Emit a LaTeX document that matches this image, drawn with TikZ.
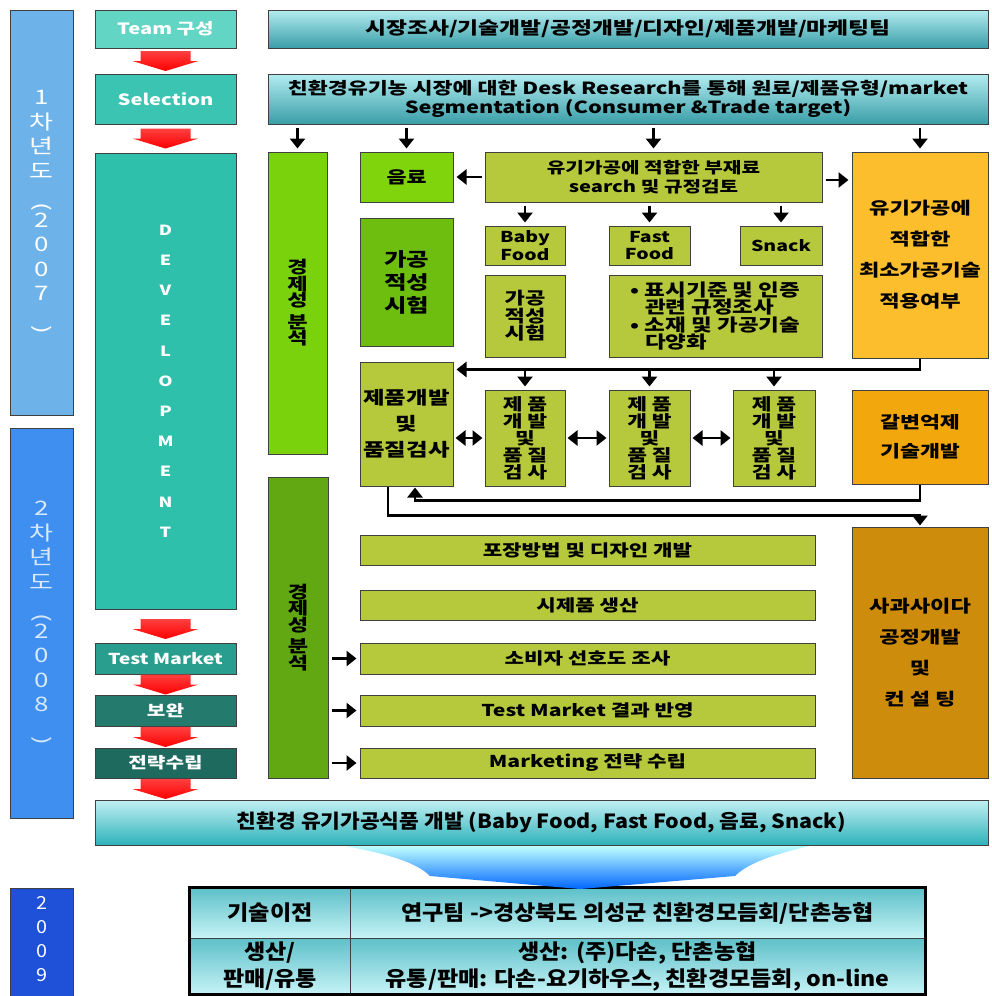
\documentclass[tikz,border=0pt]{standalone}
\usepackage{fontspec}
\setmainfont{Noto Sans CJK KR}[FakeStretch=1.3]
\newfontfamily\narrowfont{Noto Sans CJK KR}[FakeStretch=1.1]
\usetikzlibrary{arrows.meta,calc}

\definecolor{yearA}{HTML}{6DB3EA}
\definecolor{yearB}{HTML}{3F8FF0}
\definecolor{yearC}{HTML}{1E50D8}
\definecolor{tealA}{HTML}{62D5C5}
\definecolor{tealB}{HTML}{3CC4B2}
\definecolor{tealC}{HTML}{2FC0AC}
\definecolor{tealD}{HTML}{2A9E8E}
\definecolor{tealE}{HTML}{247A6C}
\definecolor{tealF}{HTML}{1F6A5E}
\definecolor{barTop}{HTML}{B2ECF0}
\definecolor{barBot}{HTML}{3A9EA8}
\definecolor{greenA}{HTML}{79D20C}
\definecolor{greenB}{HTML}{62A812}
\definecolor{greenC}{HTML}{6EBE10}
\definecolor{oliveG}{HTML}{B6C93C}
\definecolor{orangeA}{HTML}{FDBE2E}
\definecolor{orangeB}{HTML}{F2A70C}
\definecolor{orangeC}{HTML}{CD8C0C}
\definecolor{cellTop}{HTML}{5EC0C8}
\definecolor{cellBot}{HTML}{C6F3F7}

\begin{document}
\begin{tikzpicture}[x=1pt,y=-1pt,
  box/.style={draw=black!75, line width=1pt, align=center, inner sep=0pt, font=\bfseries\fontsize{16.3}{18}\selectfont},
  olive/.style={box, fill=oliveG},
  stage/.style={box, text=white, minimum width=141, font=\bfseries\fontsize{15.5}{18}\selectfont},
  yearbox/.style={box, minimum width=63, text=white, font=\fontsize{20}{24.5}\selectfont},
  bar/.style={box, top color=barTop, bottom color=barBot},
  cell/.style={box, top color=cellTop, bottom color=cellBot, font=\narrowfont\bfseries\fontsize{21}{27}\selectfont},
  conn/.style={line width=2.8pt, -{Triangle[width=15pt,length=10pt]}, shorten <=3pt, shorten >=3pt},
  dbl/.style={line width=2.8pt, {Triangle[width=15pt,length=10pt]}-{Triangle[width=15pt,length=10pt]}, shorten <=2pt, shorten >=2pt},
  redarrow/.pic={\shade[top color=red!75!white, bottom color=red] (-25,-10) -- (25,-10) -- (25,0) -- (33,0) -- (0,10) -- (-33,0) -- (-25,0) -- cycle;}
]
\useasboundingbox (0,0) rectangle (992,996);

% year columns
\node[yearbox, fill=yearA, minimum height=405] (yr1) at (41.5,212.5) {1\\차\\년\\도\\\rotatebox{-90}{(}\\2\\0\\0\\7\\\rotatebox{-90}{)}};
\node[yearbox, fill=yearB, minimum height=390, text=white!80!yearB] (yr2) at (41.5,623) {2\\차\\년\\도\\\rotatebox{-90}{(}\\2\\0\\0\\8\\\rotatebox{-90}{)}};
\node[yearbox, fill=yearC, minimum height=112, font=\narrowfont\fontsize{18}{24}\selectfont] (yr3) at (41.5,944) {\\[-20pt]2\\0\\0\\9};

% stages
\node[stage, fill=tealA, minimum height=38] (team) at (165.5,29) {Team 구성};
\node[stage, fill=tealB, minimum height=50] (sel) at (165.5,99) {Selection};
\node[stage, fill=tealC, minimum height=456, font=\bfseries\fontsize{14}{30.2}\selectfont] (dev) at (165.5,381) {D\\E\\V\\E\\L\\O\\P\\M\\E\\N\\T};
\node[stage, fill=tealD, minimum height=31, font=\bfseries\fontsize{15}{18}\selectfont] (tm) at (165.5,658.5) {Test Market};
\node[stage, fill=tealE, minimum height=31] (bowan) at (165.5,710.5) {보완};
\node[stage, fill=tealF, minimum height=30] (strat) at (165.5,763) {전략수립};
\pic at ($(team.south)!0.5!(sel.north)$) {redarrow};
\pic at ($(sel.south)!0.5!(dev.north)$) {redarrow};
\pic at ($(dev.south)!0.5!(tm.north)+(0,3)$) {redarrow};
\pic at ($(tm.south)!0.5!(bowan.north)$) {redarrow};
\pic at ($(bowan.south)!0.5!(strat.north)$) {redarrow};

% top bars
\node[bar, minimum width=720, minimum height=38, font=\bfseries\fontsize{17.5}{20}\selectfont] (teambar) at (628,29) {시장조사/기술개발/공정개발/디자인/제품개발/마케팅팀};
\node[bar, minimum width=720, minimum height=50, font=\bfseries\fontsize{16.7}{19}\selectfont] (desk) at (628,99) {친환경유기농 시장에 대한 Desk Research를 통해 원료/제품유형/market\\Segmentation (Consumer \&Trade target)};

% economic analysis
\node[box, fill=greenA, minimum width=59, minimum height=302, font=\bfseries\fontsize{17}{16.5}\selectfont] (econA) at (297.5,303) {경\\제\\성\\[5pt]분\\석};
\node[box, fill=greenB, minimum width=60, minimum height=301, font=\bfseries\fontsize{17}{16.5}\selectfont] (econB) at (298,627.5) {경\\제\\성\\[5pt]분\\석};

% research block
\node[box, fill=greenA!95!yellow, minimum width=93, minimum height=50, font=\bfseries\fontsize{16.7}{18}\selectfont] (drink) at (406.5,177) {음료};
\node[olive, minimum width=337, minimum height=50, font=\bfseries\fontsize{15.5}{19}\selectfont] (search) at (653.5,177) {유기가공에 적합한 부재료\\search 및 규정검토};
\node[box, fill=orangeA, minimum width=136, minimum height=206, font=\bfseries\fontsize{17}{31}\selectfont] (minproc) at (920,255) {유기가공에\\적합한\\최소가공기술\\적용여부};
\node[olive, minimum width=80, minimum height=39, font=\bfseries\fontsize{15}{17.5}\selectfont] (baby) at (525,245.5) {Baby\\Food};
\node[olive, minimum width=81, minimum height=39, font=\bfseries\fontsize{15}{17.5}\selectfont] (fast) at (649.5,245.5) {Fast\\Food};
\node[olive, minimum width=82, minimum height=39, font=\bfseries\fontsize{15}{17.5}\selectfont] (snack) at (781,245.5) {Snack};
\node[box, fill=greenC, minimum width=93, minimum height=128, font=\bfseries\fontsize{18.8}{23}\selectfont] (procA) at (406.5,282) {가공\\적성\\시험};
\node[olive, minimum width=80, minimum height=82, font=\bfseries\fontsize{17}{17.5}\selectfont] (procB) at (525,316) {가공\\적성\\시험};
\node[olive, minimum width=213, minimum height=82, align=left, font=\bfseries\fontsize{17.3}{17.5}\selectfont] (label) at (715.5,316) {• 표시기준 및 인증\\\hphantom{• }관련 규정조사\\• 소재 및 가공기술\\\hphantom{• }다양화};

% product development block
\node[olive, minimum width=93, minimum height=124, font=\bfseries\fontsize{18}{26}\selectfont] (pdev) at (406.5,424) {제품개발\\및\\품질검사};
\node[olive, minimum width=80, minimum height=96, font=\bfseries\fontsize{16.5}{17}\selectfont] (pq1) at (525,438) {제 품\\개 발\\및\\품 질\\검 사};
\node[olive, minimum width=81, minimum height=96, font=\bfseries\fontsize{16.5}{17}\selectfont] (pq2) at (649.5,438) {제 품\\개 발\\및\\품 질\\검 사};
\node[olive, minimum width=82, minimum height=96, font=\bfseries\fontsize{16.5}{17}\selectfont] (pq3) at (774,438) {제 품\\개 발\\및\\품 질\\검 사};
\node[box, fill=orangeB, minimum width=136, minimum height=94, font=\bfseries\fontsize{16.7}{29}\selectfont] (brown) at (920,437) {갈변억제\\기술개발};
\node[box, fill=orangeC, minimum width=136, minimum height=251, font=\bfseries\fontsize{17}{31}\selectfont] (cider) at (920,652.5) {사과사이다\\공정개발\\및\\컨 설 팅};

% second year rows
\node[olive, minimum width=455, minimum height=30] (pack) at (587.5,550) {포장방법 및 디자인 개발};
\node[olive, minimum width=455, minimum height=30] (proto) at (587.5,605) {시제품 생산};
\node[olive, minimum width=455, minimum height=31] (cons) at (587.5,658.5) {소비자 선호도 조사};
\node[olive, minimum width=455, minimum height=31] (tmres) at (587.5,710.5) {Test Market 결과 반영};
\node[olive, minimum width=455, minimum height=30] (mkt) at (587.5,763) {Marketing 전략 수립};

% result bar
\node[box, top color=barTop!80!white, bottom color=barBot!80!cyan, minimum width=893, minimum height=45, font=\narrowfont\bfseries\fontsize{19.5}{20}\selectfont] (eco) at (541.5,822.5) {친환경 유기가공식품 개발 (Baby Food, Fast Food, 음료, Snack)};
\pic at ($(strat.south)!0.5!(strat.south |- eco.north)$) {redarrow};

% transfer table
\node[cell, minimum width=160, minimum height=50] (t11) at (270,913) {기술이전};
\node[cell, minimum width=575, minimum height=50] (t12) at (637.5,913) {연구팀 ->경상북도 의성군 친환경모듬회/단촌농협};
\node[cell, minimum width=160, minimum height=56] (t21) at (270,966) {생산/\\판매/유통};
\node[cell, minimum width=575, minimum height=56] (t22) at (637.5,966) {생산: (주)다손, 단촌농협\\유통/판매: 다손-요기하우스, 친환경모듬회, on-line};
\draw[line width=3pt] (t11.north west) rectangle (t22.south east);
\shade[top color=cyan!25!white, bottom color=blue!60!cyan] (345,846) .. controls (400,856) and (420,866) .. (430,876) -- (580,889) -- (735,876) .. controls (745,866) and (765,856) .. (810,846) -- cycle;

% connectors
\draw[conn] (econA.north |- desk.south) -- (econA.north);
\draw[conn] (drink.north |- desk.south) -- (drink.north);
\draw[conn] (search.north |- desk.south) -- (search.north);
\draw[conn] (minproc.north |- desk.south) -- (minproc.north);
\draw[conn] (search.west) -- (drink.east);
\draw[conn] ([yshift=-3pt]search.east) -- ([yshift=-3pt]search.east -| minproc.west);
\draw[conn] (search.south -| baby.north) -- (baby.north);
\draw[conn] (search.south -| fast.north) -- (fast.north);
\draw[conn] (search.south -| snack.north) -- (snack.north);
\coordinate (bus) at ($(pdev.north east)+(0,8)$);
\draw[conn, shorten <=0pt] (minproc.south) |- (bus);
\draw[conn, shorten <=0pt] (bus -| pq1.north) -- (pq1.north);
\draw[conn, shorten <=0pt] (bus -| pq2.north) -- (pq2.north);
\draw[conn, shorten <=0pt] (bus -| pq3.north) -- (pq3.north);
\draw[dbl] (pq1.west -| pdev.east) -- (pq1.west);
\draw[dbl] (pq1.east) -- (pq2.west);
\draw[dbl] (pq2.east) -- (pq3.west);
\draw[conn, shorten <=0pt, shorten >=1pt] (brown.south) -- ++(0,16) -| ([xshift=8.5pt]pdev.south);
\draw[conn, shorten <=0pt, shorten >=1pt] ([xshift=-18.5pt]pdev.south) -- ++(0,29) -| (cider.north);
\draw[conn] (econB.east |- cons.west) -- (cons.west);
\draw[conn] (econB.east |- tmres.west) -- (tmres.west);
\draw[conn] (econB.east |- mkt.west) -- (mkt.west);
\end{tikzpicture}
\end{document}
